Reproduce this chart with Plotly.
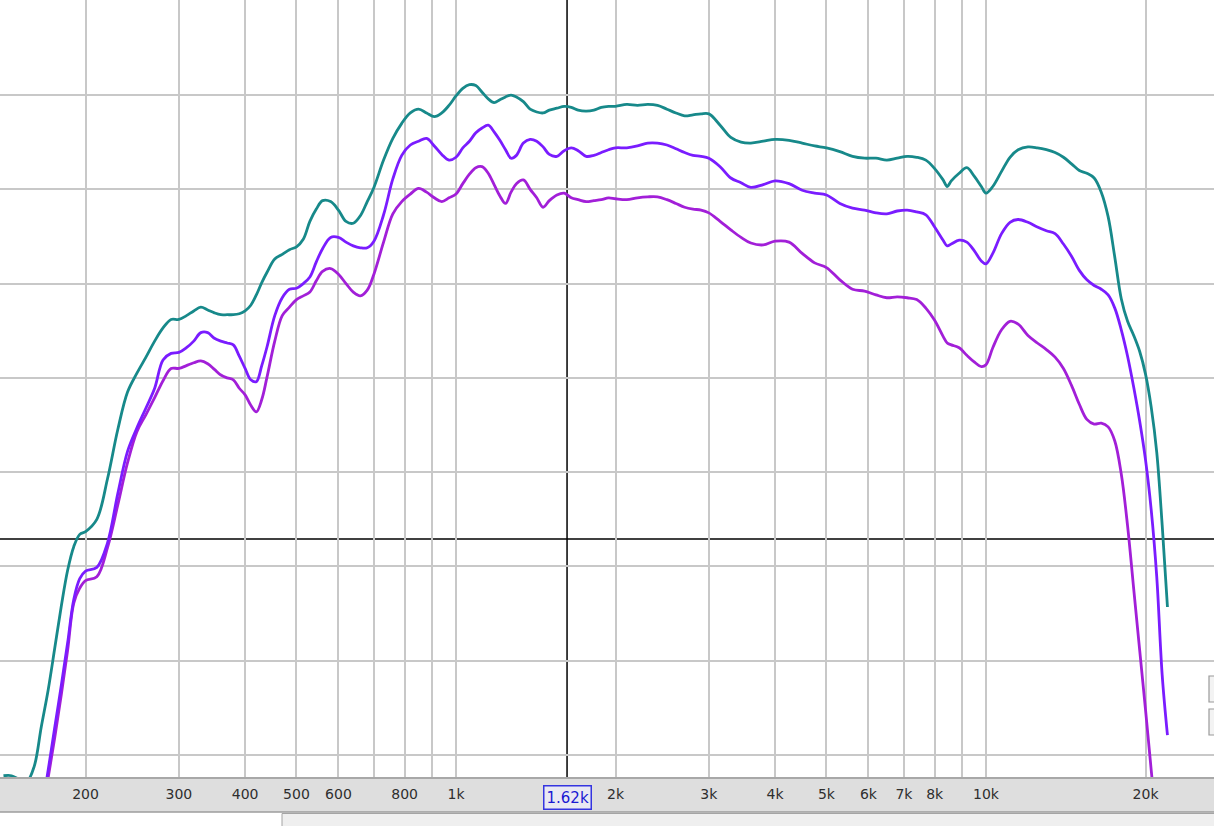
import numpy as np
import plotly.graph_objects as go

# ---------------- data ----------------
freq_hz = [
    140, 145, 150, 155, 160, 165, 170, 175, 180, 185, 190, 195, 200,
    210, 220, 230, 240, 250, 260, 270, 280, 290, 300,
    310, 320, 330, 340, 350, 360, 370, 380, 390, 400,
    410, 420, 430, 440,
    455, 470, 485, 500, 515, 530, 545, 560, 580, 600,
    620, 640, 660, 680, 700, 730, 760, 790, 820, 850,
    880, 910, 940, 970,
    1000, 1030, 1060, 1090, 1120, 1150, 1180, 1210, 1240, 1270,
    1300, 1340, 1380, 1420, 1460, 1500, 1550, 1600, 1650, 1700,
    1760, 1820, 1880, 1940,
    2000, 2100, 2200, 2300, 2400, 2500, 2600, 2700, 2800, 2900,
    3000, 3150, 3300, 3450, 3600, 3800, 4000, 4250, 4500, 4750,
    5000, 5300, 5600, 5900, 6200, 6500, 6800, 7100, 7400, 7700,
    8000, 8300, 8450, 8600, 8900, 9200, 9500, 9800,
    10000, 10300, 10700, 11100, 11500, 12000, 12500, 13000, 13500, 14000,
    14500, 15000, 15500, 16000, 16500, 17000, 17500, 18000, 18500, 19000,
    19500, 20000, 20500, 21000, 21500, 22000,
]

teal_db = [
    -72.2, -72.2, -72.6, -72.8, -71.2, -67.0, -63.1, -58.6, -54.2, -50.4, -47.9, -46.6, -46.3,
    -45.0, -40.7, -35.5, -31.5, -29.5, -27.8, -26.1, -24.7, -23.8, -23.8,
    -23.4, -22.9, -22.5, -22.8, -23.1, -23.3, -23.3, -23.3, -23.2, -22.9,
    -22.3, -21.2, -19.9, -18.8,
    -17.4, -16.9, -16.4, -16.1, -15.3, -13.4, -12.1, -11.2, -11.3, -12.2,
    -13.4, -13.6, -12.8, -11.3, -9.8, -6.9, -4.6, -3.0, -1.9, -1.5,
    -1.9, -2.3, -1.9, -1.1,
    -0.1, 0.7, 1.1, 1.0, 0.3, -0.4, -0.8, -0.5, -0.2, 0.0,
    -0.2, -0.7, -1.5, -1.8, -1.9, -1.6, -1.4, -1.2, -1.3, -1.6,
    -1.7, -1.6, -1.3, -1.2,
    -1.2, -1.0, -1.1, -1.0, -1.1, -1.5, -1.9, -2.2, -2.1, -2.0,
    -2.0, -3.2, -4.5, -5.0, -5.1, -4.9, -4.7, -4.8, -5.1, -5.4,
    -5.6, -6.0, -6.5, -6.7, -6.7, -6.9, -6.7, -6.5, -6.6, -6.9,
    -7.8, -9.0, -9.7, -9.1, -8.3, -7.7, -8.6, -9.7,
    -10.4, -9.7, -8.1, -6.6, -5.8, -5.5, -5.6, -5.8, -6.1, -6.6,
    -7.3, -8.0, -8.3, -8.8, -10.3, -12.9, -17.2, -21.6, -24.0, -25.5,
    -27.2, -29.6, -33.1, -37.9, -45.6, -54.3,
]

violet_db = [
    -80, -80, -80, -80, -80, -76.1, -71.6, -67.0, -62.6, -58.1, -53.5, -51.3, -50.5,
    -50.1, -47.5, -42.3, -37.8, -35.3, -33.2, -31.1, -28.1, -27.4, -27.3,
    -26.8, -26.1, -25.2, -25.2, -25.8, -26.1, -26.3, -26.5, -27.7, -29.0,
    -30.2, -30.4, -28.7, -26.7,
    -23.4, -21.5, -20.6, -20.5, -20.0, -19.3, -17.7, -16.3, -15.1, -15.1,
    -15.6, -16.0, -16.2, -16.2, -15.5, -12.7, -8.9, -6.4, -5.3, -4.9,
    -4.6, -5.4, -6.3, -6.9,
    -6.6, -5.6, -4.9, -4.0, -3.5, -3.2, -3.9, -4.8, -5.8, -6.7,
    -6.4, -5.1, -4.7, -4.9, -5.5, -6.3, -6.5, -5.9, -5.6, -5.9,
    -6.5, -6.4, -6.1, -5.8,
    -5.6, -5.6, -5.4, -5.1, -5.1, -5.3, -5.7, -6.1, -6.4, -6.5,
    -6.7, -7.6, -8.8, -9.3, -9.8, -9.5, -9.1, -9.4, -10.1, -10.4,
    -10.6, -11.5, -12.0, -12.2, -12.5, -12.6, -12.3, -12.2, -12.4, -12.7,
    -14.0, -15.4, -16.0, -15.8, -15.4, -15.6, -16.5, -17.6,
    -17.9, -16.8, -14.7, -13.5, -13.2, -13.5, -14.0, -14.4, -14.7, -15.8,
    -17.1, -18.6, -19.6, -20.2, -20.6, -21.2, -22.6, -24.9, -27.7, -31.0,
    -34.6, -38.7, -44.0, -51.1, -61.5, -67.9,
]

magenta_db = [
    -80, -80, -80, -80, -80, -76.9, -72.4, -68.1, -63.6, -58.9, -53.9, -52.3, -51.5,
    -51.1, -48.0, -43.5, -39.0, -35.7, -33.9, -32.1, -30.3, -29.0, -29.0,
    -28.7, -28.4, -28.2, -28.5, -29.1, -29.7, -30.0, -30.2, -31.1, -31.8,
    -32.9, -33.6, -32.3, -29.9,
    -26.1, -23.4, -22.5, -21.7, -21.3, -20.9, -19.7, -18.7, -18.4, -19.0,
    -20.0, -20.9, -21.3, -20.7, -19.0, -15.6, -12.6, -11.3, -10.5, -9.9,
    -10.3, -10.9, -11.3, -10.9,
    -10.5, -9.4, -8.4, -7.7, -7.6, -8.3, -9.5, -10.7, -11.5, -10.3,
    -9.4, -9.0, -10.0, -10.9, -11.9, -11.2, -10.6, -10.4, -10.9, -11.1,
    -11.3, -11.2, -11.1, -10.9,
    -11.0, -11.1, -10.9, -10.8, -10.8, -11.1, -11.5, -11.9, -12.1, -12.2,
    -12.5, -13.4, -14.3, -15.1, -15.7, -15.9, -15.5, -15.6, -16.8, -17.8,
    -18.3, -19.6, -20.6, -20.8, -21.2, -21.5, -21.4, -21.5, -21.7, -22.6,
    -23.9, -25.6, -26.3, -26.5, -26.8, -27.6, -28.3, -28.8,
    -28.6, -26.8, -24.9, -24.0, -24.3, -25.5, -26.3, -27.0, -27.8, -29.0,
    -30.8, -32.8, -34.4, -34.9, -34.8, -35.2, -36.7, -40.2, -45.7, -52.4,
    -58.9, -65.2, -71.6, -77.7, -83.3, None,
]

grid_freqs = [200, 300, 400, 500, 600, 700, 800, 900, 1000,
              2000, 3000, 4000, 5000, 6000, 7000, 8000, 9000, 10000, 20000]
grid_labels = ["200", "300", "400", "500", "600", "", "800", "", "1k",
               "2k", "3k", "4k", "5k", "6k", "7k", "8k", "", "10k", "20k"]
decade_freqs = [1000, 10000]

X_MIN_HZ, X_MAX_HZ = 137.9, 26930
Y_MIN_DB, Y_MAX_DB = -72.44, 10.08
CROSS_F = 1620
CROSS_DB = -47.1

series = [
    ("magenta", magenta_db, "#a21fd8"),
    ("violet", violet_db, "#7a1cff"),
    ("teal", teal_db, "#17898a"),
]

# ---------------- figure ----------------
fig = go.Figure()
for name, vals, col in series:
    fig.add_trace(go.Scatter(
        x=freq_hz, y=vals, mode="lines", name=name,
        line=dict(color=col, width=2.8, shape="spline", smoothing=1.0),
        hoverinfo="skip", showlegend=False, connectgaps=False,
    ))

W, H, B = 1214, 826, 48
plot_h = H - B

fig.update_layout(
    width=W, height=H,
    margin=dict(l=0, r=0, t=0, b=B, pad=0),
    paper_bgcolor="white", plot_bgcolor="white",
    showlegend=False,
    xaxis=dict(
        type="log",
        range=[np.log10(X_MIN_HZ), np.log10(X_MAX_HZ)],
        tickvals=grid_freqs, ticktext=grid_labels,
        showgrid=True, gridcolor="#c8c8c8", gridwidth=1.6,
        ticks="", zeroline=False, showline=False,
        tickfont=dict(family="DejaVu Sans", size=14, color="#2e2e2e"),
        ticklabelstandoff=6,
        fixedrange=True,
    ),
    yaxis=dict(
        range=[Y_MIN_DB, Y_MAX_DB], tick0=0, dtick=10,
        showticklabels=False, showgrid=True, gridcolor="#c8c8c8", gridwidth=1.6,
        ticks="", zeroline=False, showline=False, fixedrange=True,
    ),
)

# darker decade lines
for f in decade_freqs:
    fig.add_shape(type="line", xref="x", yref="paper", x0=f, x1=f, y0=0, y1=1,
                  line=dict(color="#8a8a8a", width=1.6), layer="between")

# crosshair
fig.add_shape(type="line", xref="x", yref="paper", x0=CROSS_F, x1=CROSS_F,
              y0=-8 / plot_h, y1=1, line=dict(color="black", width=1.5), layer="between")
fig.add_shape(type="line", xref="paper", yref="y", x0=0, x1=1, y0=CROSS_DB, y1=CROSS_DB,
              line=dict(color="black", width=1.5), layer="between")

# bottom axis band
band_h = 34 / plot_h
fig.add_shape(type="rect", xref="paper", yref="paper", x0=0, x1=1, y0=-band_h, y1=0,
              fillcolor="#dedede", line=dict(width=0), layer="below")
fig.add_shape(type="line", xref="paper", yref="paper", x0=0, x1=1, y0=0, y1=0,
              line=dict(color="#a8a8a8", width=2), layer="above")
fig.add_shape(type="line", xref="paper", yref="paper", x0=0, x1=1, y0=-band_h, y1=-band_h,
              line=dict(color="#9c9c9c", width=1.5), layer="below")
# scrollbar strip
fig.add_shape(type="rect", xref="paper", yref="paper", x0=282 / W, x1=1.01,
              y0=-(B + 2) / plot_h, y1=-(band_h + 1.5 / plot_h),
              fillcolor="#efefef", line=dict(color="#a4a4a4", width=1), layer="below")

# small buttons at right edge
for top_px, bot_px in [(676, 702), (709, 735)]:
    fig.add_shape(type="rect", xref="paper", yref="paper",
                  x0=1209 / W, x1=1.02,
                  y0=(plot_h - bot_px) / plot_h, y1=(plot_h - top_px) / plot_h,
                  fillcolor="#f3f3f3", line=dict(color="#9a9a9a", width=1.2), layer="above")

# crosshair frequency readout
fig.add_annotation(
    x=np.log10(CROSS_F), xref="x", y=0, yref="paper", yanchor="top", yshift=-7,
    text=f"{CROSS_F / 1000:.2f}k", showarrow=False,
    font=dict(family="DejaVu Sans", size=15, color="#1a1ad2"),
    bordercolor="#3535e0", borderwidth=1.5, borderpad=2, bgcolor="#e9e9f2",
)

fig.write_html(
    "out.html",
    config={"displayModeBar": False, "staticPlot": False},
    post_script="document.body.style.margin='0';document.body.style.padding='0';"
                "document.documentElement.style.overflow='hidden';",
)
